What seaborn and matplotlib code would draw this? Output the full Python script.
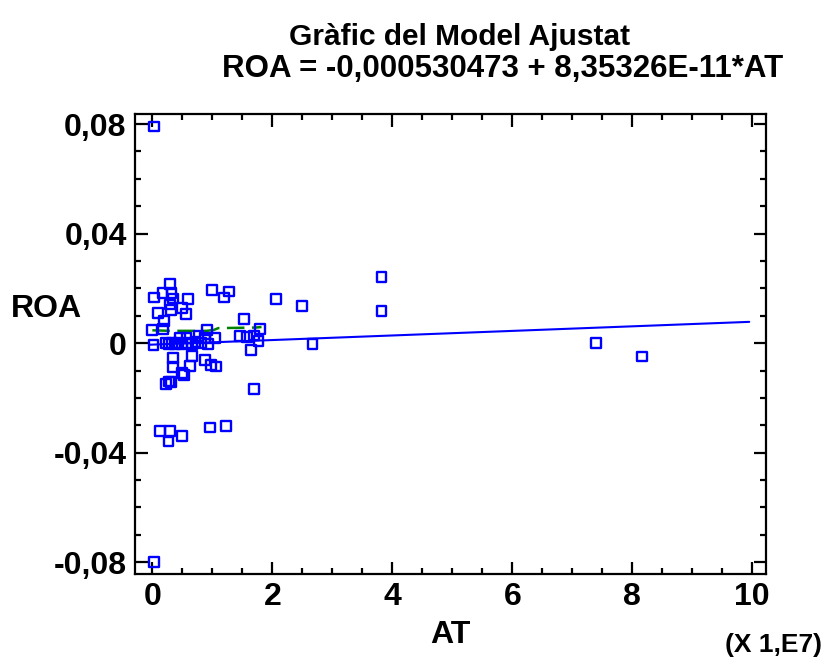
import numpy as np
import pandas as pd
import matplotlib
matplotlib.use('Agg')
import matplotlib.pyplot as plt
from matplotlib.ticker import MultipleLocator, FuncFormatter
import seaborn as sns

# --- DATA (AT in units of 1E7, ROA) ---
at = [0.03, 0.03,
      0.30, 0.17, 0.32, 0.03, 0.35, 0.60, 0.30, 0.31, 0.49, 0.10, 0.56, 0.20,
      0.00, 0.18, 0.91, 0.99, 1.20, 1.28, 1.53, 1.79, 2.06, 2.50, 3.82, 3.82,
      0.02, 0.23, 0.28, 0.33, 0.38, 0.42, 0.46, 0.50, 0.57, 0.60, 0.66, 0.72,
      0.77, 0.82, 0.88, 0.93, 1.05, 1.46, 1.58, 1.70, 1.77, 1.64, 2.67, 7.40, 8.16,
      0.35, 0.66, 0.88, 0.98, 1.06, 0.35, 0.63, 0.50, 0.53, 0.28, 0.23, 0.31,
      1.69, 0.13, 0.30, 0.27, 0.50, 0.96, 1.23]
roa = [0.0791, -0.0798,
       0.0217, 0.0183, 0.0183, 0.0167, 0.0163, 0.0161, 0.0141, 0.0122, 0.0129, 0.0110, 0.0107, 0.0080,
       0.0049, 0.0052, 0.0049, 0.0195, 0.0167, 0.0189, 0.0088, 0.0052, 0.0161, 0.0137, 0.0241, 0.0116,
       -0.0008, 0.0001, -0.0003, 0.0002, -0.0005, 0.0001, 0.0021, -0.0004, 0.0019, 0.0000, -0.0002, 0.0004,
       0.0025, 0.0000, 0.0019, -0.0002, 0.0019, 0.0027, 0.0023, 0.0028, 0.0007, -0.0024, -0.0002, 0.0002, -0.0049,
       -0.0054, -0.0048, -0.0060, -0.0079, -0.0085, -0.0088, -0.0082, -0.0109, -0.0115, -0.0140, -0.0149, -0.0143,
       -0.0167, -0.0322, -0.0322, -0.0359, -0.0338, -0.0308, -0.0301]

# fitted model from the title (AT scaled by 1E7)
intercept = -0.000530473
slope = 8.35326e-11 * 1e7
fit_at = [-0.04, 9.95]

# green smoother
smooth_at = [0.00, 0.30, 0.60, 0.90, 1.02, 1.10, 1.72, 1.82]
smooth_roa = [0.0047, 0.0045, 0.0045, 0.0045, 0.0048, 0.0055, 0.0057, 0.0059]

df = pd.DataFrame({'AT': at, 'ROA': roa})
fit = pd.DataFrame({'AT': fit_at, 'ROA': [intercept + slope * a for a in fit_at]})
smooth = pd.DataFrame({'AT': smooth_at, 'ROA': smooth_roa})

sns.set_style('ticks')
plt.rcParams['font.family'] = ['Liberation Sans', 'DejaVu Sans']
plt.rcParams['font.weight'] = 'bold'
plt.rcParams['text.color'] = 'black'
plt.rcParams['axes.labelcolor'] = 'black'
plt.rcParams['xtick.color'] = 'black'
plt.rcParams['ytick.color'] = 'black'

fig = plt.figure(figsize=(8.26, 6.6), dpi=100)
ax = fig.add_axes([0.1634, 0.1303, 0.764, 0.697])

sns.lineplot(data=smooth, x='AT', y='ROA', ax=ax, color='#008000', linewidth=1.8,
             dashes=False, linestyle=(0, (7, 3)), sort=False)
sns.lineplot(data=fit, x='AT', y='ROA', ax=ax, color='#0000ff', linewidth=1.5)
sns.scatterplot(data=df, x='AT', y='ROA', ax=ax, marker='s', s=50,
                facecolors='none', edgecolor='#0000ff', linewidth=1.7, zorder=3)

ax.set_xlim(-0.29, 10.23)
ax.set_ylim(-0.0843, 0.0837)
ax.xaxis.set_major_locator(MultipleLocator(2))
ax.xaxis.set_minor_locator(MultipleLocator(0.5))
ax.yaxis.set_major_locator(MultipleLocator(0.04))
ax.yaxis.set_minor_locator(MultipleLocator(0.01))
ax.yaxis.set_major_formatter(FuncFormatter(lambda v, p: '0' if abs(v) < 1e-9 else f'{v:.2f}'.replace('.', ',')))
ax.xaxis.set_major_formatter(FuncFormatter(lambda v, p: f'{v:.0f}'))

ax.tick_params(which='both', direction='in', top=True, right=True, width=1.6, color='black')
ax.tick_params(which='major', length=9, labelsize=23, pad=6)
ax.tick_params(which='minor', length=4.5)
for lab in ax.get_xticklabels() + ax.get_yticklabels():
    lab.set_fontweight('bold')
for s in ax.spines.values():
    s.set_linewidth(1.6)
    s.set_color('black')

ax.set_xlabel('AT', fontsize=23, fontweight='bold', va='center')
ax.xaxis.set_label_coords(0.5, -0.133)
ax.set_ylabel('ROA', fontsize=23, fontweight='bold', rotation=0, va='center', ha='center')
ax.yaxis.set_label_coords(-0.141, 0.577)
fig.text(0.995, 0.023, '(X 1,E7)', ha='right', va='center', fontsize=19, fontweight='bold')

fig.text(0.556, 0.944, 'Gràfic del Model Ajustat', ha='center', va='center', fontsize=21.5, fontweight='bold')
fig.text(0.609, 0.896, 'ROA = -0,000530473 + 8,35326E-11*AT', ha='center', va='center', fontsize=22.5, fontweight='bold')

fig.savefig('out.png', dpi=100)
